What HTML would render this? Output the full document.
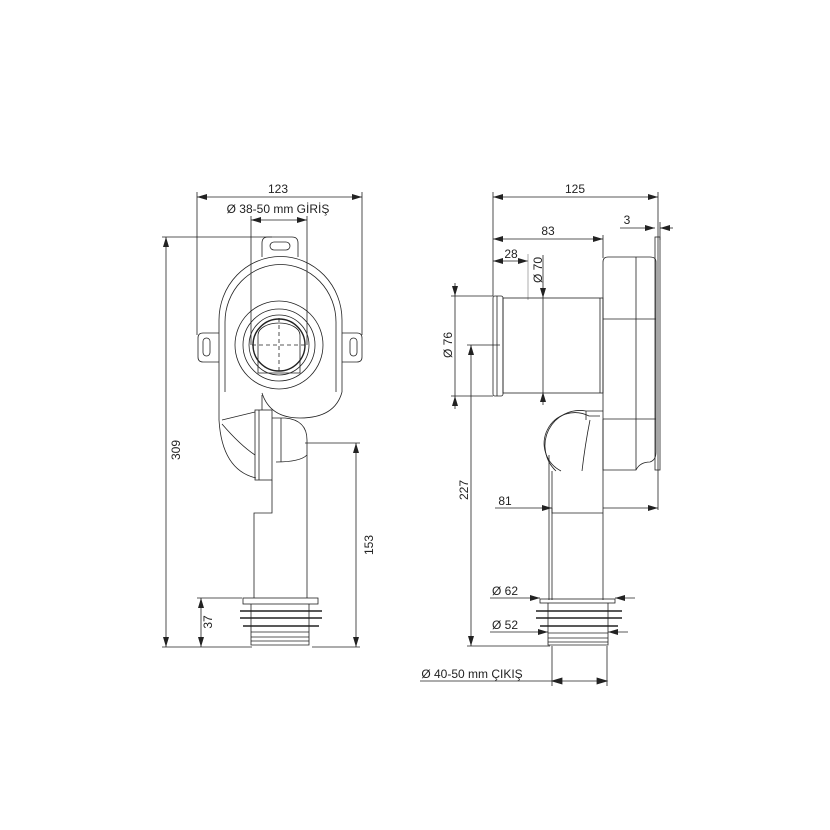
<!DOCTYPE html>
<html><head><meta charset="utf-8"><style>
html,body{margin:0;padding:0;background:#fff}
svg{display:block}
text{font-family:"Liberation Sans",sans-serif;font-size:12px;fill:#222}
</style></head><body>
<svg width="830" height="830" viewBox="0 0 830 830" xmlns="http://www.w3.org/2000/svg">
<defs>
<marker id="a" viewBox="0 0 10 6" refX="10" refY="3" markerWidth="10" markerHeight="6" orient="auto-start-reverse" markerUnits="userSpaceOnUse"><path d="M0,0L10,3L0,6z" fill="#222"/></marker>
</defs>
<g stroke="#222" fill="none" stroke-width="0.8">
<!-- LEFT VIEW dims -->
<line x1="197" y1="197" x2="362" y2="197" marker-start="url(#a)" marker-end="url(#a)"/>
<line x1="197" y1="192" x2="197" y2="335"/>
<line x1="362" y1="192" x2="362" y2="335"/>
<line x1="251" y1="220" x2="307" y2="220" marker-start="url(#a)" marker-end="url(#a)"/>
<line x1="251" y1="216" x2="251" y2="345"/>
<line x1="307" y1="216" x2="307" y2="345"/>
<line x1="166" y1="237" x2="166" y2="647" marker-start="url(#a)" marker-end="url(#a)"/>
<line x1="162" y1="237" x2="272" y2="237"/>
<line x1="162" y1="647" x2="252" y2="647"/>
<line x1="201" y1="598" x2="201" y2="647" marker-start="url(#a)" marker-end="url(#a)"/>
<line x1="197" y1="598" x2="242" y2="598"/>
<line x1="356" y1="443" x2="356" y2="647" marker-start="url(#a)" marker-end="url(#a)"/>
<line x1="305" y1="443" x2="360" y2="443"/>
<line x1="312" y1="647" x2="360" y2="647"/>
<!-- LEFT body -->
<path d="M262,257 L262,243 Q262,237 268,237 L292,237 Q298,237 298,243 L298,257"/>
<rect x="270" y="242" width="20" height="8" rx="4"/>
<path d="M219,392 L219,320 A61,63 0 0 1 342,320 L342,392"/>
<path d="M225,392 L225,322 A55,57 0 0 1 336,322 L336,392"/>
<path d="M219,333 L203,333 Q198,333 198,338 L198,357 Q198,362 203,362 L219,362"/>
<path d="M342,333 L357,333 Q362,333 362,338 L362,357 Q362,362 357,362 L342,362"/>
<rect x="203" y="338" width="7" height="18" rx="3.5"/>
<rect x="350" y="338" width="7" height="18" rx="3.5"/>
<circle cx="279" cy="345" r="44"/>
<circle cx="279" cy="345" r="36"/>
<circle cx="279" cy="345" r="30"/>
<circle cx="279" cy="345" r="26" stroke-width="1.4"/>
<path d="M258,373 L258,335 A21,12 0 0 1 300,335 L300,373 Z"/>
<line x1="279" y1="318" x2="279" y2="372" stroke-dasharray="4,3"/>
<line x1="252" y1="345" x2="306" y2="345" stroke-dasharray="4,3"/>
<path d="M262,393 Q270,418 300,418 Q335,418 342,392"/>
<path d="M219,392 L219,420 Q222,470 256,478"/>
<path d="M222,420 L255,412 M222,424 Q240,445 255,455"/>
<rect x="255" y="410" width="17" height="70"/>
<line x1="259" y1="410" x2="259" y2="480"/>
<line x1="262" y1="395" x2="262" y2="410"/>
<path d="M272,418 L285,418 Q307,420 307,440 L307,455 Q300,462 276,462"/>
<line x1="281" y1="418" x2="281" y2="462"/>
<path d="M272,480 L272,513 L254,513 L254,598"/>
<line x1="307" y1="455" x2="307" y2="598"/>
<rect x="243" y="598" width="75" height="6"/>
<path d="M240,611 L322,611 M240,618 L322,618 M243,626 L319,626" stroke-width="1.4"/>
<path d="M251,604 L251,645 L309,645 L309,604"/>
<path d="M251,632 L309,632 M251,637 L309,637 M251,641 L309,641"/>
<!-- RIGHT VIEW dims -->
<line x1="493" y1="197" x2="658" y2="197" marker-start="url(#a)" marker-end="url(#a)"/>
<line x1="493" y1="192" x2="493" y2="296"/>
<line x1="658" y1="192" x2="658" y2="510"/>
<line x1="620" y1="228" x2="655" y2="228" marker-end="url(#a)"/>
<line x1="673" y1="228" x2="660" y2="228" marker-end="url(#a)"/>
<line x1="660" y1="222" x2="660" y2="240"/>
<line x1="493" y1="239" x2="603" y2="239" marker-start="url(#a)" marker-end="url(#a)"/>
<line x1="603" y1="235" x2="603" y2="258"/>
<line x1="493" y1="261" x2="528" y2="261" marker-start="url(#a)" marker-end="url(#a)"/>
<line x1="528" y1="254" x2="528" y2="300" stroke="#999"/>
<line x1="543" y1="255" x2="543" y2="298" marker-end="url(#a)"/>
<line x1="543" y1="405" x2="543" y2="392" marker-end="url(#a)"/>
<line x1="543" y1="298" x2="543" y2="392"/>
<line x1="455" y1="283" x2="455" y2="296" marker-end="url(#a)"/>
<line x1="455" y1="409" x2="455" y2="396" marker-end="url(#a)"/>
<line x1="455" y1="296" x2="455" y2="396"/>
<line x1="451" y1="296" x2="493" y2="296"/>
<line x1="451" y1="396" x2="493" y2="396"/>
<line x1="471" y1="345" x2="471" y2="646" marker-start="url(#a)" marker-end="url(#a)"/>
<line x1="467" y1="345" x2="500" y2="345"/>
<line x1="467" y1="646" x2="550" y2="646"/>
<line x1="495" y1="508" x2="552" y2="508" marker-end="url(#a)"/>
<line x1="603" y1="508" x2="658" y2="508" marker-end="url(#a)"/>
<line x1="490" y1="598" x2="540" y2="598" marker-end="url(#a)"/>
<line x1="635" y1="598" x2="615" y2="598" marker-end="url(#a)"/>
<line x1="490" y1="632" x2="548" y2="632" marker-end="url(#a)"/>
<line x1="628" y1="632" x2="608" y2="632" marker-end="url(#a)"/>
<line x1="420" y1="681" x2="607" y2="681"/>
<line x1="552" y1="681" x2="552" y2="681" />
<path d="M562,678 L552,681 L562,684z M597,678 L607,681 L597,684z" fill="#222"/>
<line x1="552" y1="646" x2="552" y2="686"/>
<line x1="607" y1="646" x2="607" y2="686"/>
<!-- RIGHT body -->
<rect x="493" y="296" width="10" height="100" rx="2"/>
<line x1="497" y1="296" x2="497" y2="396"/>
<rect x="503" y="298" width="100" height="95"/>
<line x1="600" y1="298" x2="600" y2="393"/>
<path d="M603,262 Q603,257 608,257 L650,257 Q656,257 656,262 L656,452 Q656,460 650,462 Q640,462 636,470 L603,470 Z"/>
<rect x="655" y="237" width="5" height="233"/>
<line x1="636" y1="257" x2="636" y2="470"/>
<line x1="603" y1="319" x2="656" y2="319"/>
<line x1="603" y1="419" x2="656" y2="419"/>
<line x1="603" y1="419" x2="603" y2="470"/>
<path d="M556,471 A35,35 0 0 1 586,411 L603,411"/>
<path d="M561,471 A30,30 0 0 1 589,416 L600,416"/>
<path d="M586,411 L586,420 M590,420 Q585,445 582,471"/>
<line x1="549" y1="455" x2="549" y2="600"/>
<line x1="552" y1="471" x2="552" y2="600"/>
<line x1="603" y1="470" x2="603" y2="600"/>
<path d="M552,508 L552,513 L603,513"/>
<rect x="540" y="599" width="75" height="4"/>
<path d="M536,611 L622,611 M536,618 L622,618 M540,626 L618,626" stroke-width="1.4"/>
<path d="M548,603 L548,645 L608,645 L608,603"/>
<path d="M548,633 L608,633 M548,638 L608,638 M548,642 L608,642"/>
</g>
<text x="278" y="193" text-anchor="middle">123</text>
<text x="278" y="213" text-anchor="middle">Ø 38-50 mm GİRİŞ</text>
<text transform="translate(180,450) rotate(-90)" text-anchor="middle">309</text>
<text transform="translate(212,622) rotate(-90)" text-anchor="middle">37</text>
<text transform="translate(373,545) rotate(-90)" text-anchor="middle">153</text>
<text x="575" y="193" text-anchor="middle">125</text>
<text x="627" y="224" text-anchor="middle">3</text>
<text x="548" y="235" text-anchor="middle">83</text>
<text x="511" y="258" text-anchor="middle">28</text>
<text transform="translate(542,270) rotate(-90)" text-anchor="middle">Ø 70</text>
<text transform="translate(452,345) rotate(-90)" text-anchor="middle">Ø 76</text>
<text transform="translate(468,490) rotate(-90)" text-anchor="middle">227</text>
<text x="505" y="505" text-anchor="middle">81</text>
<text x="505" y="595" text-anchor="middle">Ø 62</text>
<text x="505" y="629" text-anchor="middle">Ø 52</text>
<text x="472" y="678" text-anchor="middle">Ø 40-50 mm ÇIKIŞ</text>
</svg>
</body></html>
